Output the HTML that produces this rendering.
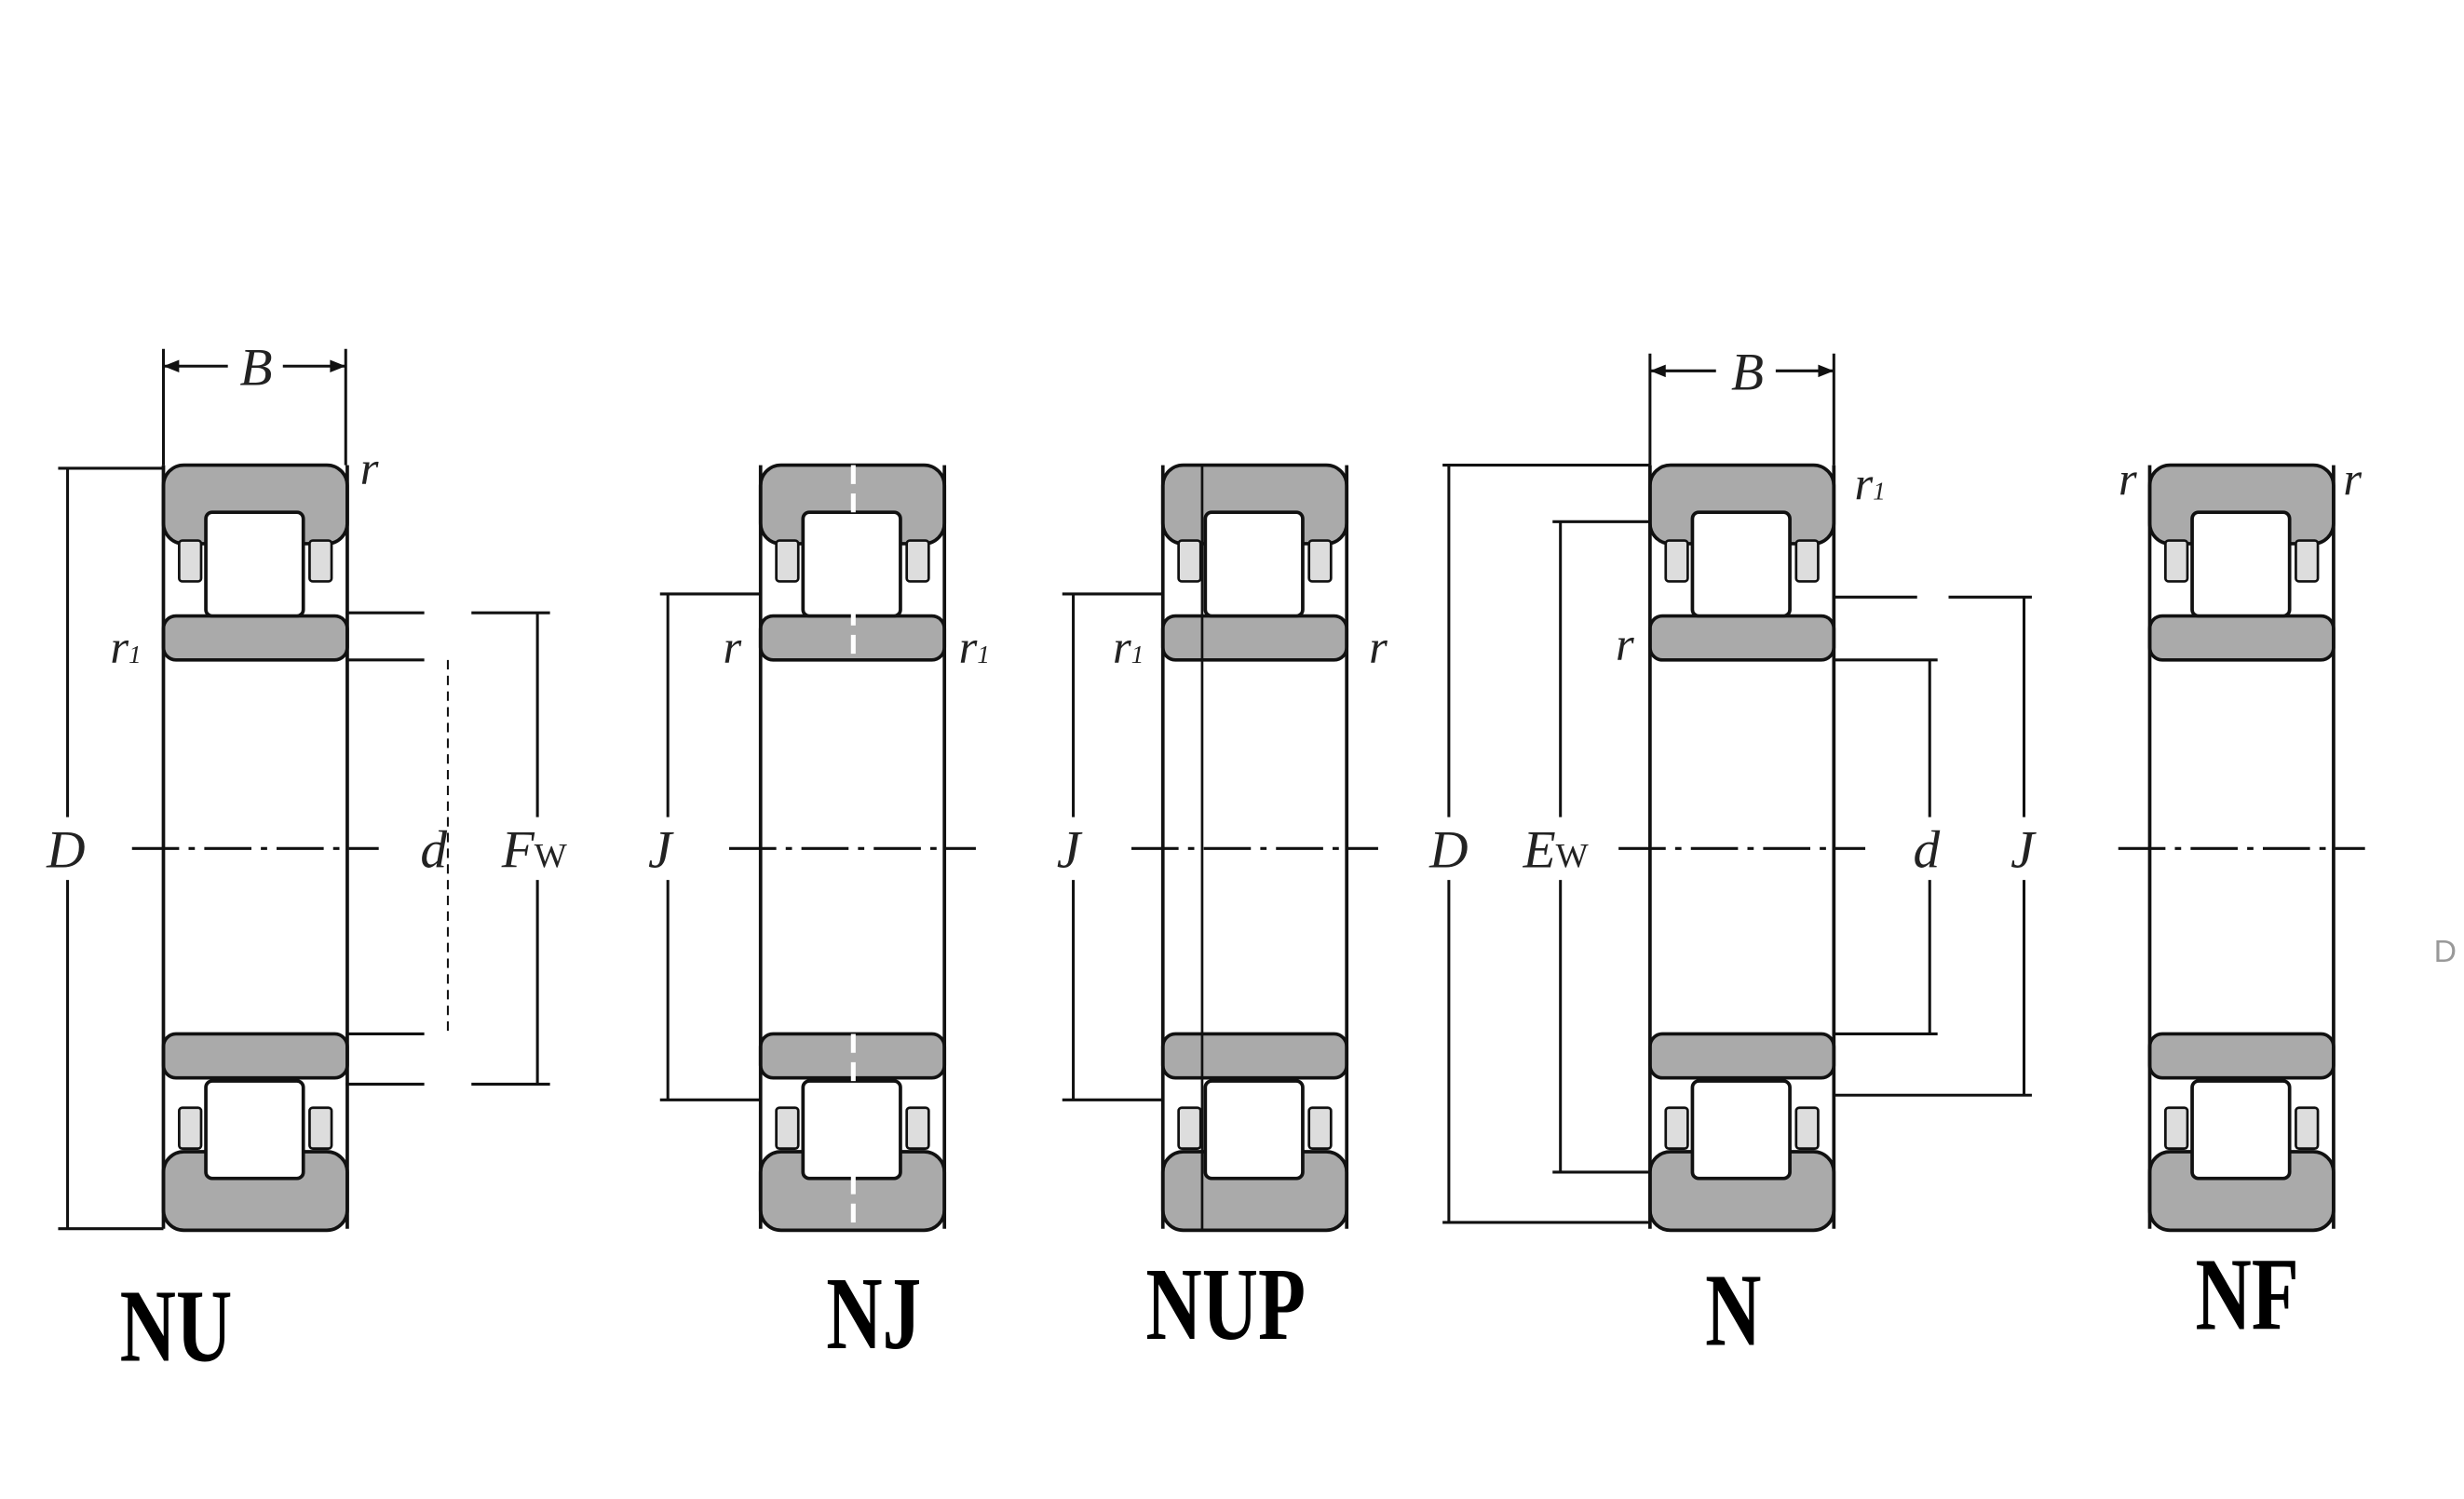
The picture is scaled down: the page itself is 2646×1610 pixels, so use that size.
<!DOCTYPE html>
<html><head><meta charset="utf-8"><style>
html,body{margin:0;padding:0;background:#fff;}
svg{display:block;}
.t{font-family:"Liberation Serif",serif;font-style:italic;fill:#222;}
.big{font-family:"Liberation Serif",serif;font-weight:bold;fill:#000;}
</style></head><body>
<svg width="2646" height="1610" viewBox="0 0 1568 954" xmlns="http://www.w3.org/2000/svg">
<defs>
<g id="br" stroke="#111" stroke-width="2.2">
  <rect x="0" y="296" width="117" height="50" rx="13" fill="#aaa"/>
  <rect x="0" y="392" width="117" height="28" rx="8" fill="#aaa"/>
  <rect x="10" y="344" width="14" height="26" rx="2" fill="#ddd" stroke-width="1.6"/>
  <rect x="93" y="344" width="14" height="26" rx="2" fill="#ddd" stroke-width="1.6"/>
  <rect x="27" y="326" width="62" height="66" rx="4" fill="#fff"/>
  <rect x="0" y="658" width="117" height="28" rx="8" fill="#aaa"/>
  <rect x="0" y="733" width="117" height="50" rx="13" fill="#aaa"/>
  <rect x="10" y="705" width="14" height="26" rx="2" fill="#ddd" stroke-width="1.6"/>
  <rect x="93" y="705" width="14" height="26" rx="2" fill="#ddd" stroke-width="1.6"/>
  <rect x="27" y="688" width="62" height="62" rx="4" fill="#fff"/>
  <line x1="0" y1="296" x2="0" y2="782"/>
  <line x1="117" y1="296" x2="117" y2="782"/>
  <line x1="-20" y1="540" x2="137" y2="540" stroke-width="1.8" stroke-dasharray="30 6 4 6"/>
</g>
</defs>
<rect width="1568" height="954" fill="#fff"/>
<use href="#br" transform="translate(104,0)"/>
<use href="#br" transform="translate(484,0)"/>
<use href="#br" transform="translate(740,0)"/>
<use href="#br" transform="translate(1050,0)"/>
<use href="#br" transform="translate(1368,0)"/>
<g stroke="#fff" stroke-width="3"><line x1="543" y1="296" x2="543" y2="420" stroke-dasharray="12 6"/><line x1="543" y1="658" x2="543" y2="782" stroke-dasharray="12 6"/></g>
<line x1="765" y1="296" x2="765" y2="782" stroke="#111" stroke-width="1.6"/>
<g stroke="#111" stroke-width="1.8" fill="none">
<line x1="104" y1="296" x2="104" y2="222"/><line x1="220" y1="296" x2="220" y2="222"/>
<line x1="104" y1="233" x2="145" y2="233"/><line x1="180" y1="233" x2="220" y2="233"/>
<line x1="37" y1="298" x2="104" y2="298"/><line x1="37" y1="782" x2="104" y2="782"/>
<line x1="43" y1="298" x2="43" y2="520"/><line x1="43" y1="560" x2="43" y2="782"/>
<line x1="220" y1="390" x2="270" y2="390"/><line x1="300" y1="390" x2="350" y2="390"/>
<line x1="220" y1="420" x2="270" y2="420"/><line x1="220" y1="658" x2="270" y2="658"/>
<line x1="220" y1="690" x2="270" y2="690"/><line x1="300" y1="690" x2="350" y2="690"/>
<line x1="285" y1="420" x2="285" y2="658" stroke-dasharray="6 4" stroke-width="1.2"/>
<line x1="342" y1="390" x2="342" y2="520"/><line x1="342" y1="560" x2="342" y2="690"/>
<line x1="420" y1="378" x2="484" y2="378"/><line x1="420" y1="700" x2="484" y2="700"/>
<line x1="425" y1="378" x2="425" y2="520"/><line x1="425" y1="560" x2="425" y2="700"/>
<line x1="676" y1="378" x2="740" y2="378"/><line x1="676" y1="700" x2="740" y2="700"/>
<line x1="683" y1="378" x2="683" y2="520"/><line x1="683" y1="560" x2="683" y2="700"/>
<line x1="1050" y1="296" x2="1050" y2="225"/><line x1="1167" y1="296" x2="1167" y2="225"/>
<line x1="1050" y1="236" x2="1092" y2="236"/><line x1="1130" y1="236" x2="1167" y2="236"/>
<line x1="918" y1="296" x2="1050" y2="296"/><line x1="918" y1="778" x2="1050" y2="778"/>
<line x1="922" y1="296" x2="922" y2="520"/><line x1="922" y1="560" x2="922" y2="778"/>
<line x1="988" y1="332" x2="1050" y2="332"/><line x1="988" y1="746" x2="1050" y2="746"/>
<line x1="993" y1="332" x2="993" y2="520"/><line x1="993" y1="560" x2="993" y2="746"/>
<line x1="1167" y1="420" x2="1233" y2="420"/><line x1="1167" y1="658" x2="1233" y2="658"/>
<line x1="1228" y1="420" x2="1228" y2="520"/><line x1="1228" y1="560" x2="1228" y2="658"/>
<line x1="1167" y1="380" x2="1220" y2="380"/><line x1="1240" y1="380" x2="1293" y2="380"/>
<line x1="1167" y1="697" x2="1293" y2="697"/>
<line x1="1288" y1="380" x2="1288" y2="520"/><line x1="1288" y1="560" x2="1288" y2="697"/>
</g>
<g fill="#111">
<path d="M104 233 l10 -4 v8z M220 233 l-10 -4 v8z M1050 236 l10 -4 v8z M1167 236 l-10 -4 v8z"/>
</g>
<g class="t" font-size="34" text-anchor="middle">
<text x="163" y="245">B</text><text x="1112" y="248">B</text>
<text x="42" y="552">D</text><text x="922" y="552">D</text>
<text x="276" y="552">d</text><text x="1226" y="552">d</text>
<text x="420" y="552">J</text><text x="680" y="552">J</text><text x="1287" y="552">J</text>
<text x="340" y="552">F<tspan font-size="22" font-style="normal">W</tspan></text>
<text x="990" y="552">E<tspan font-size="22" font-style="normal">W</tspan></text>
<text x="235" y="308" font-size="30">r</text>
<text x="80" y="422" font-size="30">r<tspan font-size="16">1</tspan></text>
<text x="466" y="422" font-size="30">r</text>
<text x="620" y="422" font-size="30">r<tspan font-size="16">1</tspan></text>
<text x="718" y="422" font-size="30">r<tspan font-size="16">1</tspan></text>
<text x="877" y="422" font-size="30">r</text>
<text x="1190" y="318" font-size="30">r<tspan font-size="16">1</tspan></text>
<text x="1034" y="420" font-size="30">r</text>
<text x="1354" y="315" font-size="30">r</text>
<text x="1497" y="315" font-size="30">r</text>
</g>
<text x="1556" y="612" font-family="Liberation Sans,sans-serif" font-size="20" fill="#999" text-anchor="middle">D</text>
<g class="big" font-size="66" text-anchor="middle">
<text x="112" y="866" transform="translate(112,0) scale(0.75,1) translate(-112,0)">NU</text>
<text x="556" y="858" transform="translate(556,0) scale(0.75,1) translate(-556,0)">NJ</text>
<text x="780" y="852" transform="translate(780,0) scale(0.75,1) translate(-780,0)">NUP</text>
<text x="1103" y="856" transform="translate(1103,0) scale(0.75,1) translate(-1103,0)">N</text>
<text x="1430" y="846" transform="translate(1430,0) scale(0.75,1) translate(-1430,0)">NF</text>
</g>
</svg>
</body></html>
